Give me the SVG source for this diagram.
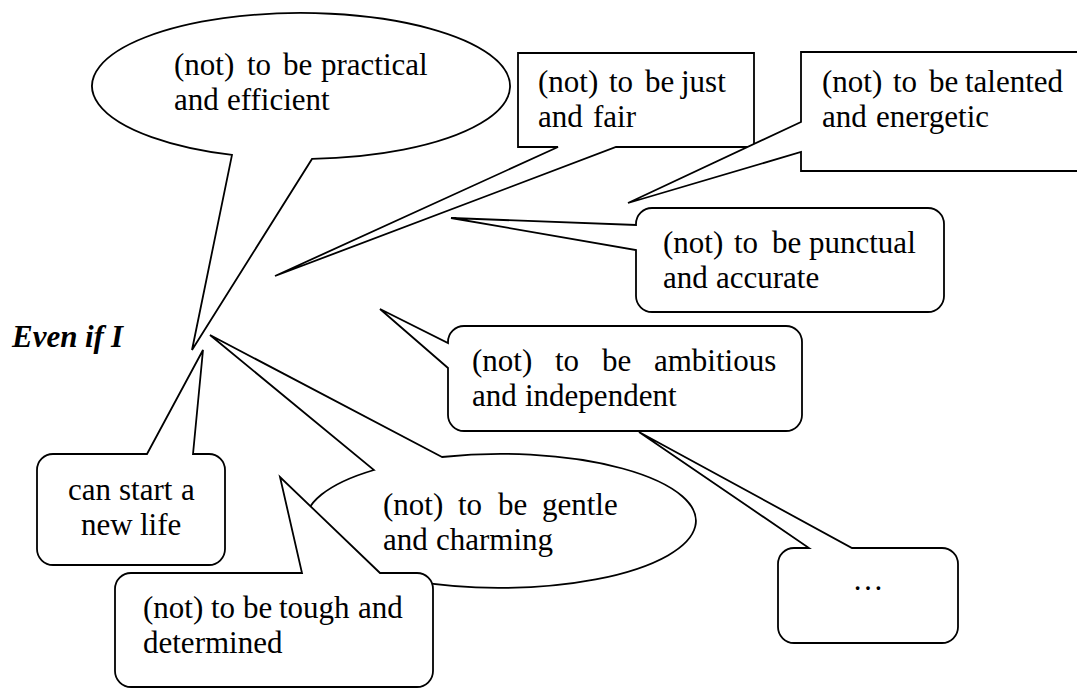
<svg xmlns="http://www.w3.org/2000/svg" width="1077" height="689" viewBox="0 0 1077 689">
<style>
.c{fill:#fff;stroke:#000;stroke-width:1.8;stroke-linejoin:miter}
text{font-family:"Liberation Serif","Times New Roman",serif;font-size:31px;fill:#000}
.b{font-weight:bold;font-style:italic}
</style>
<rect width="1077" height="689" fill="#fff"/>
<g id="practical">
<path class="c" d="M232,154.9 L192,350 L312,158.9 A209,73 0 1,0 232,154.9 Z"/>
<text><tspan x="174" y="75">(not)</tspan><tspan x="247" y="75">to</tspan><tspan x="283" y="75">be</tspan><tspan x="321" y="75">practical</tspan><tspan x="174" y="110">and</tspan><tspan x="227" y="110">efficient</tspan></text>
</g>
<g id="just">
<path class="c" d="M518,53 H754 V147 H616 L275,276 L558,147 H518 Z"/>
<text><tspan x="538" y="92">(not)</tspan><tspan x="609" y="92">to</tspan><tspan x="645" y="92">be</tspan><tspan x="681" y="92">just</tspan><tspan x="538" y="127">and</tspan><tspan x="593" y="127">fair</tspan></text>
</g>
<g id="talented">
<path class="c" d="M801,52 H1090 V171 H801 V152 L628,203 L801,122 Z"/>
<text><tspan x="822" y="92">(not)</tspan><tspan x="893" y="92">to</tspan><tspan x="929" y="92">be</tspan><tspan x="965" y="92">talented</tspan><tspan x="822" y="127">and</tspan><tspan x="876" y="127">energetic</tspan></text>
</g>
<g id="punctual">
<path class="c" d="M652,208 H928 A16,16 0 0 1 944,224 V296 A16,16 0 0 1 928,312 H652 A16,16 0 0 1 636,296 V250 L451,218 L636,225 V224 A16,16 0 0 1 652,208 Z"/>
<text><tspan x="663" y="253">(not)</tspan><tspan x="734" y="253">to</tspan><tspan x="772" y="253">be</tspan><tspan x="809" y="253">punctual</tspan><tspan x="663" y="288">and</tspan><tspan x="716" y="288">accurate</tspan></text>
</g>
<g id="ambitious">
<path class="c" d="M464,326 H786 A16,16 0 0 1 802,342 V415 A16,16 0 0 1 786,431 H464 A16,16 0 0 1 448,415 V368 L380,309 L448,343 V342 A16,16 0 0 1 464,326 Z"/>
<text><tspan x="472" y="371">(not)</tspan><tspan x="555" y="371">to</tspan><tspan x="602" y="371">be</tspan><tspan x="654" y="371">ambitious</tspan><tspan x="472" y="406">and</tspan><tspan x="525" y="406">independent</tspan></text>
</g>
<g id="more">
<path class="c" d="M794,548 H809 L639,432 L852,548 H942 A16,16 0 0 1 958,564 V627 A16,16 0 0 1 942,643 H794 A16,16 0 0 1 778,627 V564 A16,16 0 0 1 794,548 Z"/>
<text x="868" y="590" text-anchor="middle">…</text>
</g>
<g id="gentle">
<path class="c" d="M442,457 L210,335 L374,470 A195,67 0 1,0 442,457 Z"/>
<text><tspan x="383" y="515">(not)</tspan><tspan x="458" y="515">to</tspan><tspan x="498" y="515">be</tspan><tspan x="542" y="515">gentle</tspan><tspan x="383" y="550">and</tspan><tspan x="436" y="550">charming</tspan></text>
</g>
<g id="newlife">
<path class="c" d="M53,454 H147 L203,350 L193,454 H209 A16,16 0 0 1 225,470 V549 A16,16 0 0 1 209,565 H53 A16,16 0 0 1 37,549 V470 A16,16 0 0 1 53,454 Z"/>
<text><tspan x="68" y="500">can</tspan><tspan x="119" y="500">start</tspan><tspan x="181" y="500">a</tspan><tspan x="81" y="535">new</tspan><tspan x="140" y="535">life</tspan></text>
</g>
<g id="tough">
<path class="c" d="M131,573 H302 L280,477 L380,573 H417 A16,16 0 0 1 433,589 V671 A16,16 0 0 1 417,687 H131 A16,16 0 0 1 115,671 V589 A16,16 0 0 1 131,573 Z"/>
<text><tspan x="143" y="618">(not)</tspan><tspan x="211" y="618">to</tspan><tspan x="243" y="618">be</tspan><tspan x="279" y="618">tough</tspan><tspan x="358" y="618">and</tspan><tspan x="143" y="653">determined</tspan></text>
</g>
<g id="subject">
<text class="b"><tspan x="12" y="347">Even</tspan><tspan x="85" y="347">if</tspan><tspan x="111" y="347">I</tspan></text>
</g>
</svg>
